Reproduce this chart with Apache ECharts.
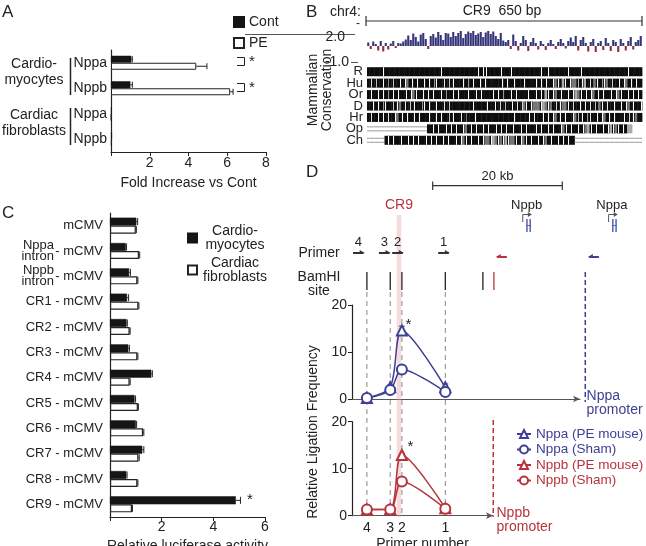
<!DOCTYPE html>
<html>
<head>
<meta charset="utf-8">
<script src="https://cdn.jsdelivr.net/npm/echarts@6/dist/echarts.min.js"></script>
<style>
html, body { margin: 0; padding: 0; background: #fff; }
#main { width: 646px; height: 546px; }
</style>
</head>
<body>
<div id="main"></div>
<script>
// ---------- A: fold increase ----------
var aCats = ['Nppa', 'Nppb', 'Nppa', 'Nppb'];
var aGroups = ['Cardio-\nmyocytes', 'Cardiac\nfibroblasts'];
var aCont = [1.05, 1.0, 0.03, 0.05];
var aContErr = [0.05, 0.1, 0, 0];
var aPE = [4.4, 6.15, 0.02, 0.04];
var aPEErr = [0.55, 0.15, 0, 0];

// ---------- B: CR9 conservation ----------
var consVals = [0.35,-0.3,0.45,0.2,-0.45,0.5,-0.55,0.3,-0.35,0.25,0.5,-0.2,0.3,0.25,0.45,0.65,
  1.05,0.6,1.25,0.9,0.45,1.15,1.3,0.7,-0.3,1.0,1.2,0.85,1.4,1.1,0.6,1.3,1.25,0.9,1.4,1.0,1.3,1.5,0.8,1.2,
  1.45,1.3,1.5,1.1,1.25,1.4,0.9,1.35,1.5,1.2,1.45,1.0,0.7,1.3,0.55,
  0.4,0.6,-0.3,1.15,0.5,-0.45,0.3,1.0,0.6,-0.5,0.4,0.8,0.3,-0.35,0.5,0.2,-0.4,0.3,0.6,0.2,-0.3,0.4,0.7,0.3,
  -0.25,0.5,0.85,0.4,1.0,-0.45,0.6,0.9,0.3,-0.55,0.4,0.7,-0.6,0.3,0.5,-0.4,0.8,0.3,-0.5,0.6,0.4,-0.6,0.7,0.3,
  -0.45,0.5,0.9,-0.35,0.4,0.6,1.0];
var alignNames = ['R', 'Hu', 'Or', 'D', 'Hr', 'Op', 'Ch'];
// # black, | white stripe, : grey stripe, g grey, l light grey, = no alignment
var alignRows = [
  '######|######################|##############|#||#####|###|###########|##|#######|####|##################|#####',
  '#|#|##|#:#|##|#|g#|#|##|#|#:|##|#|#|###|#:#|##|#|######|#|##|###|####|#|#|##|g|#l|#|gg|#|l#|#g|#:|g#|##|#|g#|#|##',
  '#|##|#|#:#|#|##|#|g|##|#|#|##|#:##|#|###|##|#|####|#|#:##|#|####|##|#|#l|#|g#|##|#|lg|#|#|g#|#|##|#|g|##|#|#|#',
  '##|#|#:|##|#|g#|#|#|##:|#|##|##|#|#########|#####|##|#|#|##|#|#|g|#|ggg|lg|g#|#|gg|#|##|#|#|#|#g|#|##|##|#|g#|##|',
  '#|##|#|#|##|g#|#|##|#|###|##|#|##|#|##|#:###|###############|#####|#|###|#|#|g#|#|##|g|#|#:|##|#|g#|#|###|#|#|g##',
  '========================##|#|##|#|#|##|g#|#|##|#|##|#|#|##|##|#|###|#|##|#|##|g|#|##|#|gl|#|##|#|l|g|#|#ll    ',
  '=======#|#|##|##|#|#|##|#|#|##|#|##|#|g|#|##|#|gg|lg|g|l|gg|#|g|#|##|#|g#|##|#|#|##==========================='
];
var regionBp = 650;

// ---------- C: luciferase ----------
var cCats = ['mCMV', 'Nppa intron', 'Nppb intron', 'CR1', 'CR2', 'CR3', 'CR4', 'CR5', 'CR6', 'CR7', 'CR8', 'CR9'];
var cCardio = [1.02, 0.61, 0.74, 0.66, 0.64, 0.71, 1.6, 0.95, 1.0, 1.25, 0.63, 4.87];
var cCardioErr = [0.05, 0.03, 0.05, 0.06, 0.03, 0.04, 0.04, 0.04, 0.03, 0.06, 0.03, 0.18];
var cFibro = [1.0, 1.12, 1.06, 1.1, 0.76, 1.06, 0.76, 1.08, 1.28, 1.1, 1.06, 0.85];
var cFibroErr = [0.02, 0.03, 0.02, 0.02, 0.02, 0.02, 0.02, 0.02, 0.03, 0.03, 0.02, 0.02];

// ---------- D: 3C ligation (positions in kb) ----------
var primerNums = ['4', '3', '2', '1'];
var primerKb = [2.3, 5.9, 7.7, 14.4];
var primerArrowKb = [0.15, 4.15, 6.2, 13.3];
var bamhiKb = [2.3, 5.9, 7.7, 14.4, 20.2];
var bamhiNppbKb = 21.9;
var cr9Kb = [6.9, 7.6];
var nppbPromKb = 21.8, nppaPromKb = 36.0;
var nppbTssKb = 26.35, nppaTssKb = 39.6;
var scaleBarKb = [12.45, 32.45];
var nppaPE = [0.2, 2.5, 14.6, 2.5];
var nppaPEErr = [0.2, 0.5, 0.9, 0.7];
var nppaSham = [0.2, 1.9, 6.3, 1.5];
var nppaShamErr = [0.1, 0.3, 0.5, 0.4];
var nppbPE = [1.3, 1.4, 12.9, 1.6];
var nppbPEErr = [0.3, 0.3, 0.4, 0.4];
var nppbSham = [1.3, 1.3, 7.3, 1.5];
var nppbShamErr = [0.2, 0.2, 0.4, 0.3];

var FONT = "'Liberation Sans', Arial, sans-serif";
var INK = '#222';
var BLUE = '#3e4095';
var RED = '#b8333d';
var PX_PER_KB = 6.48;

var chart = echarts.init(document.getElementById('main'), null, { renderer: 'canvas' });

function pairs(x, y) { return x.map(function (v, i) { return [v, y[i]]; }); }

// horizontal error bar (value, category)
function hErr(offset, cap) {
  return function (params, api) {
    var v = api.value(0), c = api.value(1), e = api.value(2);
    if (!e) return;
    var a = api.coord([v, c]), b = api.coord([v + e, c]);
    var y = a[1] + offset;
    return { type: 'group', children: [
      { type: 'line', shape: { x1: a[0], y1: y, x2: b[0], y2: y }, style: { stroke: INK, lineWidth: 1 } },
      { type: 'line', shape: { x1: b[0], y1: y - cap, x2: b[0], y2: y + cap }, style: { stroke: INK, lineWidth: 1 } }
    ] };
  };
}
// vertical error bar for D
function vErr(color) {
  return function (params, api) {
    var x = api.value(0), v = api.value(1), e = api.value(2);
    var a = api.coord([x, v - e]), b = api.coord([x, v + e]);
    return { type: 'group', children: [
      { type: 'line', shape: { x1: a[0], y1: a[1], x2: b[0], y2: b[1] }, style: { stroke: color, lineWidth: 1 } },
      { type: 'line', shape: { x1: a[0] - 3, y1: b[1], x2: a[0] + 3, y2: b[1] }, style: { stroke: color, lineWidth: 1 } },
      { type: 'line', shape: { x1: a[0] - 3, y1: a[1], x2: a[0] + 3, y2: a[1] }, style: { stroke: color, lineWidth: 1 } }
    ] };
  };
}
function errData(xs, vs, es) { return xs.map(function (x, i) { return [x, vs[i], es[i]]; }); }

// alignment blocks
var shade = { '#': '#0d0d0d', 'k': '#333', 'g': '#777', 'l': '#aaa' };
function renderAlign(params, api) {
  var row = api.value(0);
  var s = alignRows[row];
  var n = s.length, w = regionBp / n;
  var yc = api.coord([0, row])[1], h = 9;
  var ch = [];
  for (var j = 0; j < n; j++) {
    var c = s.charAt(j);
    var x0 = api.coord([j * w, row])[0], x1 = api.coord([(j + 1) * w, row])[0];
    if (c === ' ') continue;
    if (c === '=') {
      ch.push({ type: 'line', shape: { x1: x0, y1: yc - 2, x2: x1, y2: yc - 2 }, style: { stroke: '#999', lineWidth: 1 } });
      ch.push({ type: 'line', shape: { x1: x0, y1: yc + 2, x2: x1, y2: yc + 2 }, style: { stroke: '#999', lineWidth: 1 } });
      continue;
    }
    var fill = shade[c] || '#0d0d0d';
    ch.push({ type: 'rect', shape: { x: x0, y: yc - h / 2, width: x1 - x0 + 0.4, height: h }, style: { fill: fill } });
    if (c === '|' || c === ':') {
      var xm = Math.round((x0 + x1) / 2) + 0.5;
      ch.push({ type: 'line', shape: { x1: xm, y1: yc - h / 2, x2: xm, y2: yc + h / 2 }, style: { stroke: c === '|' ? '#fff' : '#999', lineWidth: 1 } });
    }
  }
  return { type: 'group', children: ch };
}

// D annotation track (x: kb, y: px offset from top of track)
function renderTrack(params, api) {
  var ch = [];
  function pt(k, v) { return api.coord([k, v]); }
  function seg(k1, v1, k2, v2, st) {
    var a = pt(k1, v1), b = pt(k2, v2);
    ch.push({ type: 'line', shape: { x1: a[0], y1: a[1], x2: b[0], y2: b[1] }, style: st });
  }
  function txt(k, v, s, st) {
    var p = pt(k, v);
    ch.push({ type: 'text', style: Object.assign({ x: p[0], y: p[1], text: s, fontFamily: FONT, fontSize: 14, fill: INK, align: 'center', verticalAlign: 'middle' }, st || {}) });
  }
  function arrow(k1, k2, v, color) {
    seg(k1, v, k2, v, { stroke: color, lineWidth: 2 });
    var b = pt(k2, v), d = k2 > k1 ? 1 : -1;
    ch.push({ type: 'polygon', shape: { points: [[b[0] + d, b[1]], [b[0] - d * 4, b[1] - 3], [b[0] - d * 4, b[1]]] }, style: { fill: color } });
  }
  function gene(tss) {
    var gc = '#5563b0';
    seg(tss, 62, tss, 54.5, { stroke: '#555', lineWidth: 1 });
    seg(tss, 54.5, tss + 1.1, 54.5, { stroke: '#555', lineWidth: 1 });
    var e = pt(tss + 1.1, 54.5);
    ch.push({ type: 'polygon', shape: { points: [[e[0] + 2, e[1]], [e[0] - 2, e[1] - 2.5], [e[0] - 2, e[1] + 2.5]] }, style: { fill: '#555' } });
    seg(tss + 0.65, 59, tss + 0.65, 72, { stroke: gc, lineWidth: 1.5 });
    seg(tss + 1.15, 59, tss + 1.15, 72, { stroke: gc, lineWidth: 1.5 });
    seg(tss + 0.55, 65.5, tss + 1.3, 65.5, { stroke: gc, lineWidth: 1 });
  }
  // CR9 highlight band
  var a = pt(cr9Kb[0], 55), b = pt(cr9Kb[1], 357);
  ch.push({ type: 'rect', shape: { x: a[0], y: a[1], width: b[0] - a[0], height: b[1] - a[1] }, style: { fill: 'rgba(228,160,160,0.38)' } });
  // scale bar
  seg(scaleBarKb[0], 25.7, scaleBarKb[1], 25.7, { stroke: '#333', lineWidth: 1.2 });
  seg(scaleBarKb[0], 21.5, scaleBarKb[0], 30, { stroke: '#333', lineWidth: 1.2 });
  seg(scaleBarKb[1], 21.5, scaleBarKb[1], 30, { stroke: '#333', lineWidth: 1.2 });
  txt((scaleBarKb[0] + scaleBarKb[1]) / 2, 16, '20 kb', { fontSize: 13 });
  // labels
  txt((cr9Kb[0] + cr9Kb[1]) / 2, 45, 'CR9', { fill: RED });
  txt(nppbTssKb + 0.6, 45, 'Nppb', { fontSize: 13 });
  txt(nppaTssKb + 0.5, 45, 'Nppa', { fontSize: 13 });
  gene(nppbTssKb);
  gene(nppaTssKb);
  // primers
  primerArrowKb.forEach(function (k, i) {
    arrow(k, k + 1.65, 93, '#333');
    txt(k + 0.85, 82, primerNums[i], { fontSize: 13 });
  });
  arrow(23.9, 22.35, 97, RED);
  arrow(38.1, 36.55, 97, BLUE);
  // BamHI sites
  bamhiKb.forEach(function (k) { seg(k, 112, k, 130, { stroke: '#222', lineWidth: 1.3 }); });
  seg(bamhiNppbKb, 112, bamhiNppbKb, 130, { stroke: RED, lineWidth: 1.3 });
  // dashed guides
  primerKb.forEach(function (k) { seg(k, 132, k, 357, { stroke: '#888', lineWidth: 1, lineDash: [5, 4] }); });
  seg(nppaPromKb, 112, nppaPromKb, 242, { stroke: BLUE, lineWidth: 1.5, lineDash: [5, 3] });
  seg(nppbPromKb, 260, nppbPromKb, 357, { stroke: RED, lineWidth: 1.5, lineDash: [5, 3] });
  txt(nppaPromKb + 0.2, 229, 'Nppa\npromoter', { fill: BLUE, align: 'left', verticalAlign: 'top', lineHeight: 14 });
  txt(nppbPromKb + 0.5, 346, 'Nppb\npromoter', { fill: RED, align: 'left', verticalAlign: 'top', lineHeight: 14 });
  // significance
  txt(primerKb[2] + 1.0, 165, '*', { fontSize: 15 });
  txt(primerKb[2] + 1.3, 287, '*', { fontSize: 15 });
  return { type: 'group', children: ch };
}

// plain graphic helpers (labels / decorations)
function gText(x, y, s, st, extra) {
  return Object.assign({ type: 'text', x: x, y: y, style: Object.assign({ text: s, fontFamily: FONT, fontSize: 14, fill: INK, align: 'left', verticalAlign: 'middle' }, st || {}) }, extra || {});
}
function gLine(x1, y1, x2, y2, w, c) {
  return { type: 'line', shape: { x1: x1, y1: y1, x2: x2, y2: y2 }, style: { stroke: c || INK, lineWidth: w || 1 } };
}
function gPoly(pts) {
  return { type: 'polyline', shape: { points: pts }, style: { stroke: INK, lineWidth: 1, fill: null } };
}

var axisLineStyle = { color: INK, width: 1.2 };
var dLen = function (w) { return w / PX_PER_KB; };

var option = {
  animation: false,
  textStyle: { fontFamily: FONT, color: INK },
  grid: [
    { left: 111, top: 50, width: 155, height: 102, outerBoundsMode: 'none' },
    { left: 110, top: 213, width: 155, height: 304, outerBoundsMode: 'none' },
    { left: 367, top: 28, width: 275, height: 28, outerBoundsMode: 'none' },
    { left: 367, top: 66, width: 275, height: 80, outerBoundsMode: 'none' },
    { left: 352, top: 305, width: 228, height: 94, outerBoundsMode: 'none' },
    { left: 352, top: 421.7, width: 141, height: 94, outerBoundsMode: 'none' },
    { left: 352, top: 160, width: 294, height: 360, outerBoundsMode: 'none' }
  ],
  xAxis: [
    { gridIndex: 0, type: 'value', min: 0, max: 8, interval: 2,
      axisLine: { show: true, lineStyle: axisLineStyle }, axisTick: { show: true, length: 4, lineStyle: { color: INK } },
      splitLine: { show: false },
      axisLabel: { fontSize: 14, color: INK, margin: 4, formatter: function (v) { return v === 0 ? '' : v; } },
      name: 'Fold Increase vs Cont', nameLocation: 'middle', nameGap: 24, nameTextStyle: { fontSize: 14, color: INK } },
    { gridIndex: 1, type: 'value', min: 0, max: 6, interval: 2,
      axisLine: { show: true, lineStyle: axisLineStyle }, axisTick: { show: true, length: 4, lineStyle: { color: INK } },
      splitLine: { show: false },
      axisLabel: { fontSize: 14, color: INK, margin: 3, formatter: function (v) { return v === 0 ? '' : v; } },
      name: 'Relative luciferase activity', nameLocation: 'middle', nameGap: 17, nameTextStyle: { fontSize: 14, color: INK } },
    { gridIndex: 2, type: 'value', min: 0, max: regionBp, show: false },
    { gridIndex: 3, type: 'value', min: 0, max: regionBp, show: false },
    { gridIndex: 4, type: 'value', min: 0, max: dLen(228),
      axisLine: { show: true, symbol: ['none', 'arrow'], symbolSize: [5, 7], lineStyle: { color: '#555', width: 1.2 } },
      axisTick: { show: false }, axisLabel: { show: false }, splitLine: { show: false } },
    { gridIndex: 5, type: 'value', min: 0, max: dLen(141),
      axisLine: { show: true, symbol: ['none', 'arrow'], symbolSize: [5, 7], lineStyle: { color: '#555', width: 1.2 } },
      axisTick: { show: false }, splitLine: { show: false },
      axisLabel: { show: true, customValues: primerKb, fontSize: 14, color: INK, margin: 5,
        formatter: function (v) { var i = primerKb.indexOf(v); return i < 0 ? '' : primerNums[i]; } },
      name: 'Primer number', nameLocation: 'middle', nameGap: 21, nameTextStyle: { fontSize: 14, color: INK } },
    { gridIndex: 6, type: 'value', min: 0, max: dLen(294), show: false }
  ],
  yAxis: [
    { gridIndex: 0, type: 'category', inverse: true, data: aCats, position: 'left',
      axisLine: { lineStyle: axisLineStyle }, axisTick: { length: 4, lineStyle: { color: INK } },
      axisLabel: { fontSize: 14, color: INK, margin: 4, interval: 0 } },
    { gridIndex: 0, type: 'category', inverse: true, data: aGroups, position: 'left',
      axisLine: { show: false }, axisTick: { show: false },
      axisLabel: { margin: 46, padding: [0, 0, 7, 0], interval: 0,
        formatter: function (v) { return v.split('\n').map(function (t) { return '{c|' + t + '}'; }).join('\n'); },
        rich: { c: { fontSize: 14, color: INK, width: 62, align: 'center', lineHeight: 16, fontFamily: FONT } } } },
    { gridIndex: 1, type: 'category', inverse: true, data: cCats, position: 'left',
      axisLine: { lineStyle: axisLineStyle }, axisTick: { show: false },
      axisLabel: { fontSize: 13, color: INK, margin: 7, interval: 0,
        formatter: function (v) { return v === 'mCMV' ? 'mCMV' : (v.indexOf('intron') > 0 ? '- mCMV' : v + ' - mCMV'); } } },
    { gridIndex: 1, type: 'category', inverse: true, data: cCats, position: 'left',
      axisLine: { show: false }, axisTick: { show: false },
      axisLabel: { fontSize: 13, color: INK, margin: 56, lineHeight: 11, padding: [8, 0, 0, 0], interval: 0,
        formatter: function (v) { return v.indexOf('intron') > 0 ? v.replace(' ', '\n') : ''; } } },
    { gridIndex: 2, type: 'value', min: -1, max: 1.8, show: false },
    { gridIndex: 3, type: 'category', inverse: true, data: alignNames, position: 'left',
      axisLine: { show: false }, axisTick: { show: false },
      axisLabel: { fontSize: 13, color: INK, margin: 4, interval: 0, lineHeight: 11 } },
    { gridIndex: 4, type: 'value', min: 0, max: 20, interval: 10, position: 'left',
      axisLine: { show: true, lineStyle: axisLineStyle }, axisTick: { show: true, length: 4, lineStyle: { color: INK } },
      splitLine: { show: false }, axisLabel: { fontSize: 14, color: INK, margin: 5 } },
    { gridIndex: 5, type: 'value', min: 0, max: 20, interval: 10, position: 'left',
      axisLine: { show: true, lineStyle: axisLineStyle }, axisTick: { show: true, length: 4, lineStyle: { color: INK } },
      splitLine: { show: false }, axisLabel: { fontSize: 14, color: INK, margin: 5 } },
    { gridIndex: 6, type: 'value', min: 0, max: 360, inverse: true, show: false }
  ],
  legend: [
    { data: ['Cont', 'PE'], left: 228, top: 10, orient: 'vertical', icon: 'rect',
      itemWidth: 10, itemHeight: 10, itemGap: 7, selectedMode: false,
      textStyle: { fontSize: 14, color: INK } },
    { data: ['Cardiomyocytes', 'Cardiac fibroblasts'], left: 182, top: 219, orient: 'vertical', icon: 'rect',
      itemWidth: 9, itemHeight: 9, itemGap: 4, selectedMode: false,
      formatter: function (n) { return n === 'Cardiomyocytes' ? '{c|Cardio-}\n{c|myocytes}' : '{c|Cardiac}\n{c|fibroblasts}'; },
      textStyle: { fontSize: 14, color: INK, rich: { c: { fontSize: 14, lineHeight: 14, width: 66, align: 'center', color: INK, fontFamily: FONT } } } },
    { data: [
        { name: 'Nppa (PE mouse)', textStyle: { color: BLUE } },
        { name: 'Nppa (Sham)', textStyle: { color: BLUE } },
        { name: 'Nppb (PE mouse)', textStyle: { color: RED } },
        { name: 'Nppb (Sham)', textStyle: { color: RED } }
      ], left: 511, top: 422, orient: 'vertical', itemWidth: 14, itemHeight: 10, itemGap: 1.5, selectedMode: false,
      textStyle: { fontSize: 13.5, lineHeight: 14 } }
  ],
  series: [
    // A
    { name: 'Cont', type: 'bar', xAxisIndex: 0, yAxisIndex: 0, data: aCont, barWidth: 7, barGap: '0%',
      itemStyle: { color: '#151515', borderColor: '#151515', borderWidth: 0.5 } },
    { name: 'PE', type: 'bar', xAxisIndex: 0, yAxisIndex: 0, data: aPE, barWidth: 7, barGap: '0%',
      itemStyle: { color: '#fff', borderColor: INK, borderWidth: 1 } },
    { type: 'custom', xAxisIndex: 0, yAxisIndex: 0, renderItem: hErr(-3.5, 3), encode: { x: 0, y: 1 },
      data: aCont.map(function (v, i) { return [v, i, aContErr[i]]; }), z: 3 },
    { type: 'custom', xAxisIndex: 0, yAxisIndex: 0, renderItem: hErr(3.5, 3), encode: { x: 0, y: 1 },
      data: aPE.map(function (v, i) { return [v, i, aPEErr[i]]; }), z: 3 },
    // C
    { name: 'Cardiomyocytes', type: 'bar', xAxisIndex: 1, yAxisIndex: 2, data: cCardio, barWidth: 8, barGap: '0%',
      itemStyle: { color: '#151515', borderColor: '#151515', borderWidth: 0.5 } },
    { name: 'Cardiac fibroblasts', type: 'bar', xAxisIndex: 1, yAxisIndex: 2, data: cFibro, barWidth: 8, barGap: '0%',
      itemStyle: { color: '#fff', borderColor: INK, borderWidth: 1.2 } },
    { type: 'custom', xAxisIndex: 1, yAxisIndex: 2, renderItem: hErr(-4, 3.5), encode: { x: 0, y: 1 },
      data: cCardio.map(function (v, i) { return [v, i, cCardioErr[i]]; }), z: 3 },
    { type: 'custom', xAxisIndex: 1, yAxisIndex: 2, renderItem: hErr(4, 3.5), encode: { x: 0, y: 1 },
      data: cFibro.map(function (v, i) { return [v, i, cFibroErr[i]]; }), z: 3 },
    // B
    { type: 'bar', xAxisIndex: 2, yAxisIndex: 4, barWidth: 2.1,
      data: consVals.map(function (v, i) { return [(i + 0.5) * regionBp / consVals.length, v]; }),
      itemStyle: { color: function (p) { return p.value[1] >= 0 ? '#35357a' : '#8e2f35'; } } },
    { type: 'custom', xAxisIndex: 3, yAxisIndex: 5, renderItem: renderAlign, encode: { y: 0 },
      data: alignRows.map(function (s, i) { return [i]; }) },
    // D track
    { type: 'custom', xAxisIndex: 6, yAxisIndex: 8, renderItem: renderTrack, data: [[0, 0]], z: 1, silent: true },
    // D lines
    { name: 'Nppa (PE mouse)', type: 'line', xAxisIndex: 4, yAxisIndex: 6, data: pairs(primerKb, nppaPE), smooth: 0.3,
      symbol: 'emptyTriangle', symbolSize: 10, lineStyle: { color: BLUE, width: 1.5 }, itemStyle: { color: BLUE, borderWidth: 1.3 }, z: 4 },
    { name: 'Nppa (Sham)', type: 'line', xAxisIndex: 4, yAxisIndex: 6, data: pairs(primerKb, nppaSham), smooth: 0.3,
      symbol: 'emptyCircle', symbolSize: 10, lineStyle: { color: BLUE, width: 1.5 }, itemStyle: { color: BLUE, borderWidth: 1.3 }, z: 4 },
    { name: 'Nppb (PE mouse)', type: 'line', xAxisIndex: 5, yAxisIndex: 7, data: pairs(primerKb, nppbPE), smooth: 0.3,
      symbol: 'emptyTriangle', symbolSize: 10, lineStyle: { color: RED, width: 1.5 }, itemStyle: { color: RED, borderWidth: 1.3 }, z: 4 },
    { name: 'Nppb (Sham)', type: 'line', xAxisIndex: 5, yAxisIndex: 7, data: pairs(primerKb, nppbSham), smooth: 0.3,
      symbol: 'emptyCircle', symbolSize: 10, lineStyle: { color: RED, width: 1.5 }, itemStyle: { color: RED, borderWidth: 1.3 }, z: 4 },
    { type: 'custom', xAxisIndex: 4, yAxisIndex: 6, renderItem: vErr(BLUE), data: errData(primerKb, nppaPE, nppaPEErr), z: 3 },
    { type: 'custom', xAxisIndex: 4, yAxisIndex: 6, renderItem: vErr(BLUE), data: errData(primerKb, nppaSham, nppaShamErr), z: 3 },
    { type: 'custom', xAxisIndex: 5, yAxisIndex: 7, renderItem: vErr(RED), data: errData(primerKb, nppbPE, nppbPEErr), z: 3 },
    { type: 'custom', xAxisIndex: 5, yAxisIndex: 7, renderItem: vErr(RED), data: errData(primerKb, nppbSham, nppbShamErr), z: 3 }
  ],
  graphic: [
    gText(2, 12, 'A', { fontSize: 17 }), gText(306, 12, 'B', { fontSize: 17 }),
    gText(2, 213, 'C', { fontSize: 17 }), gText(306, 172, 'D', { fontSize: 17 }),
    // A group brackets and significance
    gLine(70.5, 58, 70.5, 95, 1.5), gLine(70.5, 108, 70.5, 145, 1.5),
    gPoly([[237, 57.5], [244.5, 57.5], [244.5, 65.5], [237, 65.5]]), gText(249, 62, '*', { fontSize: 15 }),
    gPoly([[237, 83.5], [244.5, 83.5], [244.5, 91.5], [237, 91.5]]), gText(249, 88, '*', { fontSize: 15 }),
    gLine(245, 34.5, 355, 34.5, 1, '#555'),
    // B headers
    gText(361, 12, 'chr4:', { align: 'right' }),
    gText(502, 11, 'CR9  650 bp', { align: 'center' }),
    gLine(366, 21, 642, 21, 1.2, '#333'), gLine(366, 16, 366, 26, 1.2, '#333'), gLine(642, 16, 642, 26, 1.2, '#333'),
    gText(356, 24, '-', { fontSize: 12 }),
    gText(345, 37, '2.0', { align: 'right' }),
    gText(349, 62, '-1.0', { align: 'right' }), gLine(351, 62.5, 358, 62.5, 1, '#555'),
    gText(320, 90, 'Mammalian\nConservation', { align: 'center', lineHeight: 14 }, { rotation: Math.PI / 2 }),
    // C significance
    gText(247, 500, '*', { fontSize: 15 }),
    // D left labels
    gText(319, 253, 'Primer', { align: 'center' }),
    gText(319, 284, 'BamHI\nsite', { align: 'center', lineHeight: 14 }),
    gText(313, 432, 'Relative Ligation Frequency', { align: 'center' }, { rotation: Math.PI / 2 })
  ]
};

chart.setOption(option);
window.onresize = function () { chart.resize(); };
</script>
</body>
</html>
